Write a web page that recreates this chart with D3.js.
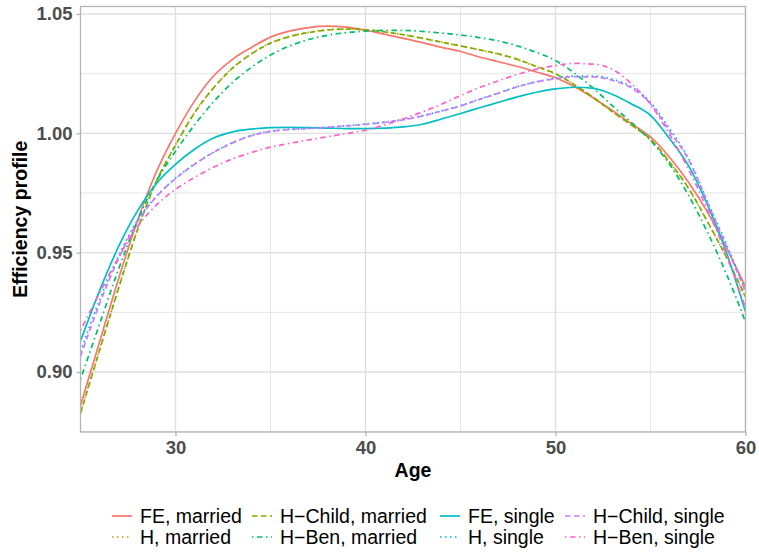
<!DOCTYPE html>
<html>
<head>
<meta charset="utf-8">
<script src="https://cdn.jsdelivr.net/npm/d3@7"></script>
<style>
  body { margin: 0; background: #fff; }
  text { font-family: "Liberation Sans", Arial, sans-serif; }
</style>
</head>
<body>
<div id="chart"></div>
<script>
// ages on the x axis
var ages = [25, 26, 27, 28, 29, 30, 31, 32, 33, 34, 35, 36, 37, 38, 39, 40, 41, 42,
  43, 44, 45, 46, 47, 48, 49, 50, 51, 52, 53, 54, 55, 56, 57, 58, 59, 60];

var feMarried = [0.886, 0.9125, 0.939, 0.9635, 0.984, 1.000, 1.0135, 1.024, 1.031, 1.036, 1.0403, 1.0428,
  1.0443, 1.0449, 1.0445, 1.0432, 1.0415, 1.0398, 1.038, 1.036, 1.0343, 1.032, 1.030, 1.028,
  1.0257, 1.0233, 1.0195, 1.0148, 1.0095, 1.004, 0.9985, 0.990, 0.9795, 0.967, 0.952, 0.9357];
var hMarried = [0.8830, 0.9093, 0.9352, 0.9597, 0.9801, 0.9952, 1.0087, 1.0191, 1.0274, 1.0334, 1.0379, 1.0406,
  1.0423, 1.0434, 1.0437, 1.0434, 1.0425, 1.0413, 1.0398, 1.0382, 1.0366, 1.0349, 1.0332, 1.0309,
  1.0279, 1.0249, 1.0202, 1.0149, 1.0089, 1.0034, 0.9974, 0.9879, 0.9769, 0.9629, 0.9479, 0.9313];
var hChildMarried = [0.8827, 0.909, 0.935, 0.9595, 0.980, 0.995, 1.0085, 1.019, 1.0273, 1.0333, 1.0378, 1.0405,
  1.0422, 1.0433, 1.0437, 1.0434, 1.0425, 1.0413, 1.0398, 1.0382, 1.0366, 1.035, 1.0333, 1.031,
  1.028, 1.025, 1.0203, 1.015, 1.009, 1.0035, 0.9975, 0.988, 0.977, 0.963, 0.948, 0.9315];
var hBenMarried = [0.897, 0.920, 0.943, 0.9635, 0.980, 0.9925, 1.0035, 1.0132, 1.0213, 1.0277, 1.0328, 1.0366,
  1.0393, 1.0411, 1.0422, 1.0428, 1.0431, 1.0431, 1.0427, 1.042, 1.0412, 1.0401, 1.0387, 1.0366,
  1.0339, 1.0305, 1.0252, 1.0188, 1.0115, 1.0045, 0.997, 0.987, 0.974, 0.9585, 0.941, 0.921];
var feSingle = [0.913, 0.934, 0.9525, 0.9675, 0.979, 0.987, 0.9933, 0.998, 1.0006, 1.0018, 1.0024, 1.0025,
  1.0024, 1.0022, 1.002, 1.002, 1.0022, 1.0027, 1.0038, 1.006, 1.0083, 1.0107, 1.013, 1.0153,
  1.0172, 1.0186, 1.0193, 1.0188, 1.0163, 1.0123, 1.0075, 0.9978, 0.9865, 0.970, 0.950, 0.9252];
var hSingle = [0.9085, 0.930, 0.9485, 0.9635, 0.9737, 0.9812, 0.9871, 0.9921, 0.9961, 0.9991, 1.0009, 1.0017,
  1.0021, 1.0026, 1.0032, 1.0039, 1.0047, 1.0058, 1.0074, 1.0094, 1.0116, 1.0143, 1.0169, 1.0196,
  1.0216, 1.0231, 1.0240, 1.0240, 1.0227, 1.0195, 1.0130, 1.002, 0.9895, 0.9715, 0.9535, 0.934];
var hChildSingle = [0.9065, 0.9285, 0.9475, 0.963, 0.9735, 0.981, 0.987, 0.992, 0.996, 0.999, 1.0008, 1.0016,
  1.002, 1.0025, 1.0031, 1.0038, 1.0046, 1.0057, 1.0073, 1.0093, 1.0115, 1.0142, 1.0168, 1.0195,
  1.0215, 1.0229, 1.0237, 1.0236, 1.0222, 1.019, 1.0124, 1.001, 0.989, 0.971, 0.9525, 0.9336];
var hBenSingle = [0.9175, 0.933, 0.948, 0.961, 0.970, 0.9765, 0.9815, 0.9858, 0.9893, 0.992, 0.9942, 0.9958,
  0.9972, 0.9986, 0.9999, 1.0013, 1.0035, 1.0061, 1.009, 1.0122, 1.0158, 1.0192, 1.022, 1.0247,
  1.0269, 1.0284, 1.0293, 1.029, 1.0268, 1.0208, 1.0122, 0.9995, 0.985, 0.968, 0.949, 0.927];

var seriesNames = ["FE, married", "H, married", "H\u2212Child, married", "H\u2212Ben, married",
  "FE, single", "H, single", "H\u2212Child, single", "H\u2212Ben, single"];
var seriesValues = [feMarried, hMarried, hChildMarried, hBenMarried,
  feSingle, hSingle, hChildSingle, hBenSingle];
var seriesColors = ["#F8766D", "#CD9600", "#7CAE00", "#00BE67", "#00BFC4", "#00A9FF", "#C77CFF", "#FF61CC"];
var seriesDash = ["none", "1.5,3.5", "5.5,3.5", "1.5,3.5,5.5,3.5", "none", "1.5,3.5", "5.5,3.5", "1.5,3.5,5.5,3.5"];

var xTicks = [30, 40, 50, 60];
var xMinor = [35, 45, 55];
var yTicks = [0.90, 0.95, 1.00, 1.05];
var yMinor = [0.875, 0.925, 0.975, 1.025];

draw();

function draw() {
  var width = 759,
    height = 554;
  var pLeft = 80.5, pRight = 745.5, pTop = 6.5, pBottom = 432;

  var svg = d3.select("#chart")
    .append("svg")
    .attr("width", width)
    .attr("height", height);

  var x = d3.scaleLinear().domain([25, 60]).range([pLeft, pRight]);
  var y = d3.scaleLinear().domain([0.87486, 1.05314]).range([pBottom, pTop]);

  //grid
  var grid = svg.append("g");
  grid.selectAll(".ymin").data(yMinor).enter().append("line")
    .attr("x1", pLeft).attr("x2", pRight)
    .attr("y1", d => y(d)).attr("y2", d => y(d))
    .attr("stroke", "#e6e6e6").attr("stroke-width", 1);
  grid.selectAll(".xmin").data(xMinor).enter().append("line")
    .attr("y1", pTop).attr("y2", pBottom)
    .attr("x1", d => x(d)).attr("x2", d => x(d))
    .attr("stroke", "#e6e6e6").attr("stroke-width", 1);
  grid.selectAll(".ymaj").data(yTicks).enter().append("line")
    .attr("x1", pLeft).attr("x2", pRight)
    .attr("y1", d => y(d)).attr("y2", d => y(d))
    .attr("stroke", "#dedede").attr("stroke-width", 1.3);
  grid.selectAll(".xmaj").data(xTicks).enter().append("line")
    .attr("y1", pTop).attr("y2", pBottom)
    .attr("x1", d => x(d)).attr("x2", d => x(d))
    .attr("stroke", "#dedede").attr("stroke-width", 1.3);

  //lines
  var line = d3.line()
    .x((d, i) => x(ages[i]))
    .y(d => y(d))
    .curve(d3.curveMonotoneX);

  svg.append("clipPath").attr("id", "clip")
    .append("rect").attr("x", pLeft).attr("y", pTop)
    .attr("width", pRight - pLeft).attr("height", pBottom - pTop);

  svg.append("g").attr("clip-path", "url(#clip)")
    .selectAll(".series")
    .data(seriesValues)
    .enter().append("path")
    .attr("class", "series")
    .attr("d", d => line(d))
    .attr("fill", "none")
    .attr("stroke", (d, i) => seriesColors[i])
    .attr("stroke-width", 1.7)
    .attr("stroke-dasharray", (d, i) => seriesDash[i]);

  //panel border
  svg.append("rect")
    .attr("x", pLeft).attr("y", pTop)
    .attr("width", pRight - pLeft).attr("height", pBottom - pTop)
    .attr("fill", "none").attr("stroke", "#b3b3b3").attr("stroke-width", 1.3);

  //axes
  var xAxis = d3.axisBottom(x).tickValues(xTicks).tickSize(4).tickPadding(5);
  var yAxis = d3.axisLeft(y).tickValues(yTicks).tickSize(4).tickPadding(4).tickFormat(d3.format(".2f"));

  var gx = svg.append("g").attr("transform", "translate(0," + pBottom + ")").call(xAxis);
  var gy = svg.append("g").attr("transform", "translate(" + pLeft + ",0)").call(yAxis);
  [gx, gy].forEach(function (g) {
    g.select(".domain").remove();
    g.selectAll(".tick line").attr("stroke", "#b3b3b3").attr("stroke-width", 1.3);
    g.selectAll(".tick text")
      .attr("fill", "#4d4d4d")
      .style("font-size", "18.5px")
      .style("font-weight", "bold")
      .style("font-family", "'Liberation Sans', Arial, sans-serif");
  });

  //titles
  svg.append("text")
    .attr("x", (pLeft + pRight) / 2).attr("y", 477)
    .attr("text-anchor", "middle")
    .style("font-size", "19.5px").style("font-weight", "bold")
    .text("Age");
  svg.append("text")
    .attr("transform", "translate(27," + ((pTop + pBottom) / 2) + ") rotate(-90)")
    .attr("text-anchor", "middle")
    .style("font-size", "19.5px").style("font-weight", "bold")
    .text("Efficiency profile");

  //legend, two rows filled column by column
  var colKeyX = [112, 252, 440, 565];
  var rowY = [516, 537];
  var item = svg.append("g").selectAll(".item")
    .data(seriesNames)
    .enter().append("g")
    .attr("class", "item")
    .attr("transform", (d, i) => "translate(" + colKeyX[Math.floor(i / 2)] + "," + rowY[i % 2] + ")");
  item.append("line")
    .attr("x1", 0).attr("x2", 20).attr("y1", 0).attr("y2", 0)
    .attr("stroke", (d, i) => seriesColors[i])
    .attr("stroke-width", 1.7)
    .attr("stroke-dasharray", (d, i) => seriesDash[i]);
  item.append("text")
    .attr("x", 28).attr("y", 7)
    .style("font-size", "19.5px")
    .text(d => d);
}
</script>
</body>
</html>
